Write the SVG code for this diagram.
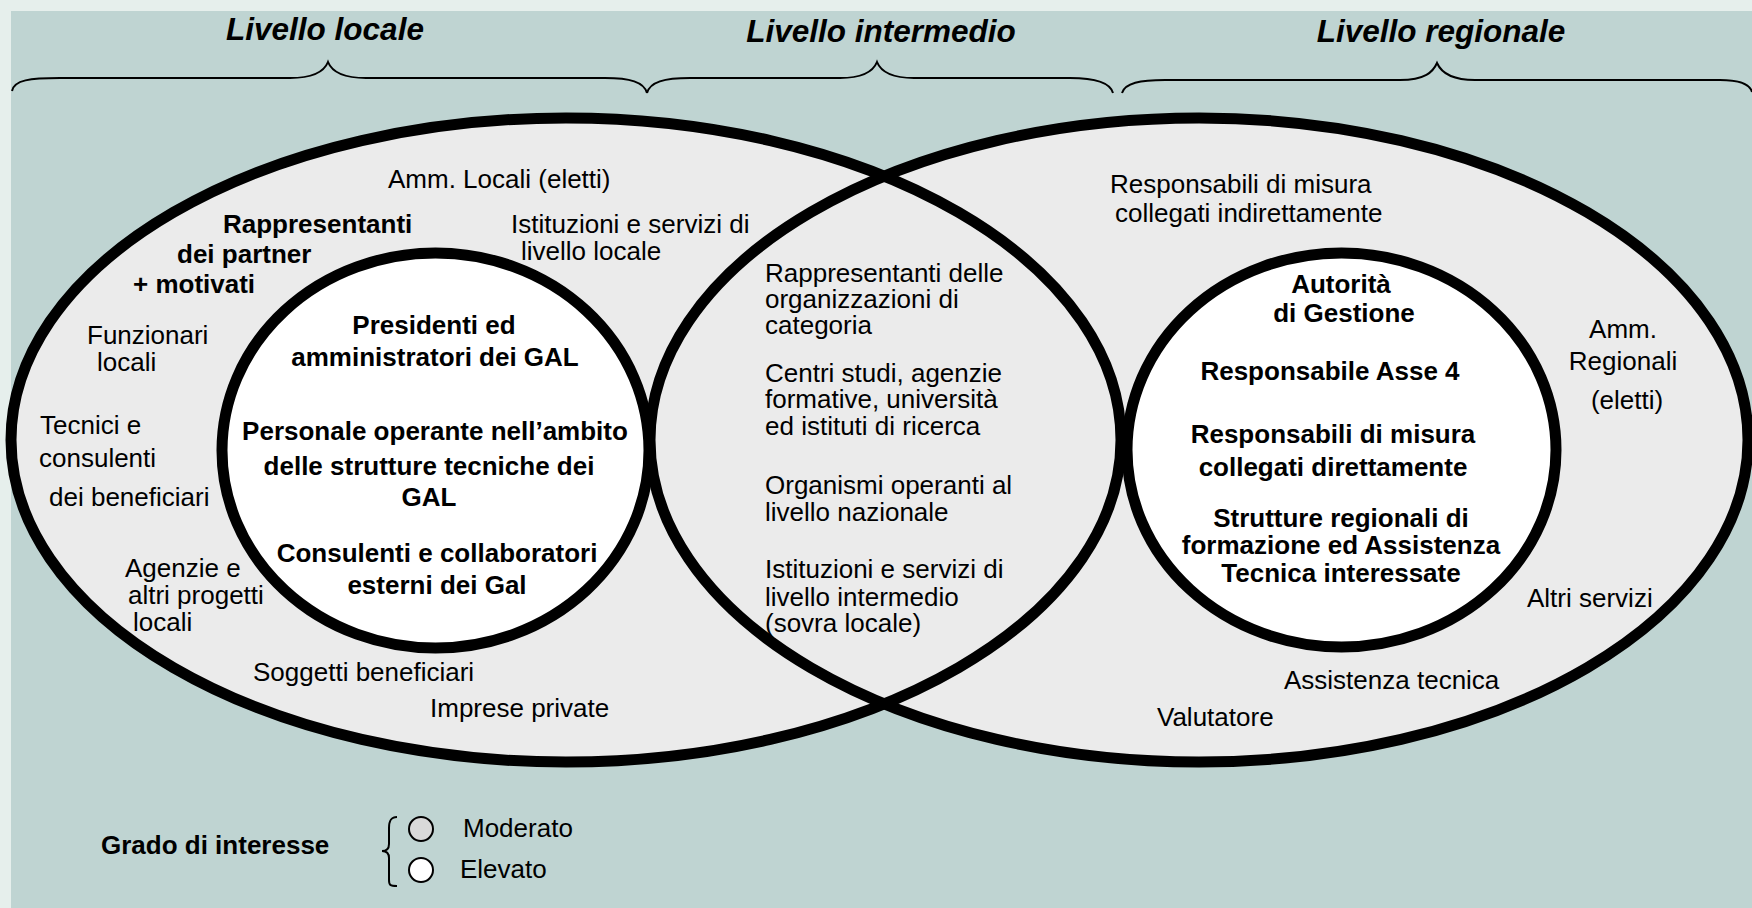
<svg xmlns="http://www.w3.org/2000/svg" width="1752" height="908" viewBox="0 0 1752 908">
<style>
text{font-family:"Liberation Sans",Arial,sans-serif;font-size:26px;fill:#000}
.b{font-weight:bold}
.t{font-weight:bold;font-style:italic;font-size:31.5px;text-anchor:middle}
.m{text-anchor:middle}
.big{fill:#ebebeb;stroke:none}
.bigs{fill:none;stroke:#000;stroke-width:11}
.inner{fill:#fff;stroke:#000;stroke-width:11}
.brace{fill:none;stroke:#000;stroke-width:2}
</style>
<rect x="0" y="0" width="1752" height="908" fill="#e6efec"/>
<rect x="11" y="11" width="1741" height="897" fill="#bfd4d2"/>
<g id="braces">
<path class="brace" d="M12,91 C14,80 30,78 60,78 L290,78 C312,78 324,72 328,62 C332,72 344,78 366,78 L605,78 C630,78 644,82 647,93"/>
<path class="brace" d="M647,93 C650,82 664,78 690,78 L840,78 C862,78 873,72 877,62 C881,72 892,78 914,78 L1070,78 C1095,78 1110,82 1113,93"/>
<path class="brace" d="M1122,93 C1125,83 1140,80 1165,80 L1400,80 C1425,80 1433,72 1437,63 C1441,72 1450,80 1475,80 L1720,80 C1740,80 1750,85 1752,92"/>
</g>
<g id="titles">
<text class="t" x="325" y="40">Livello locale</text>
<text class="t" x="881" y="42">Livello intermedio</text>
<text class="t" x="1441" y="42">Livello regionale</text>
</g>
<g id="outer-ellipses">
<ellipse class="big" cx="566" cy="440" rx="555" ry="322"/>
<ellipse class="big" cx="1199" cy="440" rx="549" ry="322"/>
<ellipse class="bigs" cx="566" cy="440" rx="555" ry="322"/>
<ellipse class="bigs" cx="1199" cy="440" rx="549" ry="322"/>
</g>
<g id="local-outer">
<text x="388" y="188">Amm. Locali (eletti)</text>
<text x="511" y="233">Istituzioni e servizi di</text>
<text x="521" y="260">livello locale</text>
<text class="b" x="223" y="233">Rappresentanti</text>
<text class="b" x="177" y="263">dei partner</text>
<text class="b" x="133" y="293">+ motivati</text>
<text x="87" y="344">Funzionari</text>
<text x="97" y="371">locali</text>
<text x="40" y="434">Tecnici e</text>
<text x="39" y="467">consulenti</text>
<text x="49" y="506">dei beneficiari</text>
<text x="125" y="577">Agenzie e</text>
<text x="128" y="604">altri progetti</text>
<text x="133" y="631">locali</text>
<text x="253" y="681">Soggetti beneficiari</text>
<text x="430" y="717">Imprese private</text>
</g>
<g id="local-inner">
<ellipse class="inner" cx="435.5" cy="450.5" rx="213.5" ry="197.5"/>
<text class="b m" x="434" y="334">Presidenti ed</text>
<text class="b m" x="435" y="366">amministratori dei GAL</text>
<text class="b m" x="435" y="440">Personale operante nell’ambito</text>
<text class="b m" x="429" y="475">delle strutture tecniche dei</text>
<text class="b m" x="429" y="506">GAL</text>
<text class="b m" x="437" y="562">Consulenti e collaboratori</text>
<text class="b m" x="437" y="594">esterni dei Gal</text>
</g>
<g id="intermediate">
<text x="765" y="282">Rappresentanti delle</text>
<text x="765" y="308">organizzazioni di</text>
<text x="765" y="334">categoria</text>
<text x="765" y="382">Centri studi, agenzie</text>
<text x="765" y="408">formative, università</text>
<text x="765" y="435">ed istituti di ricerca</text>
<text x="765" y="494">Organismi operanti al</text>
<text x="765" y="521">livello nazionale</text>
<text x="765" y="578">Istituzioni e servizi di</text>
<text x="765" y="606">livello intermedio</text>
<text x="765" y="632">(sovra locale)</text>
</g>
<g id="regional-outer">
<text x="1110" y="193">Responsabili di misura</text>
<text x="1115" y="222">collegati indirettamente</text>
<text class="m" x="1623" y="338">Amm.</text>
<text class="m" x="1623" y="370">Regionali</text>
<text class="m" x="1627" y="409">(eletti)</text>
<text x="1527" y="607">Altri servizi</text>
<text x="1284" y="689">Assistenza tecnica</text>
<text x="1157" y="726">Valutatore</text>
</g>
<g id="regional-inner">
<ellipse class="inner" cx="1341.5" cy="450" rx="214.5" ry="197"/>
<text class="b m" x="1341" y="293">Autorità</text>
<text class="b m" x="1344" y="322">di Gestione</text>
<text class="b m" x="1330" y="380">Responsabile Asse 4</text>
<text class="b m" x="1333" y="443">Responsabili di misura</text>
<text class="b m" x="1333" y="476">collegati direttamente</text>
<text class="b m" x="1341" y="527">Strutture regionali di</text>
<text class="b m" x="1341" y="554">formazione ed Assistenza</text>
<text class="b m" x="1341" y="582">Tecnica interessate</text>
</g>
<g id="legend">
<text class="b" x="101" y="854">Grado di interesse</text>
<path class="brace" d="M397,817 C390,817 389,822 389,828 L389,844 C389,849 386,851 382,851 C386,851 389,853 389,858 L389,880 C389,885 390,886 397,886"/>
<circle cx="421" cy="829" r="12" fill="#d9d9d9" stroke="#000" stroke-width="2"/>
<circle cx="421" cy="870" r="12" fill="#fff" stroke="#000" stroke-width="2"/>
<text x="463" y="837">Moderato</text>
<text x="460" y="878">Elevato</text>
</g>
</svg>
